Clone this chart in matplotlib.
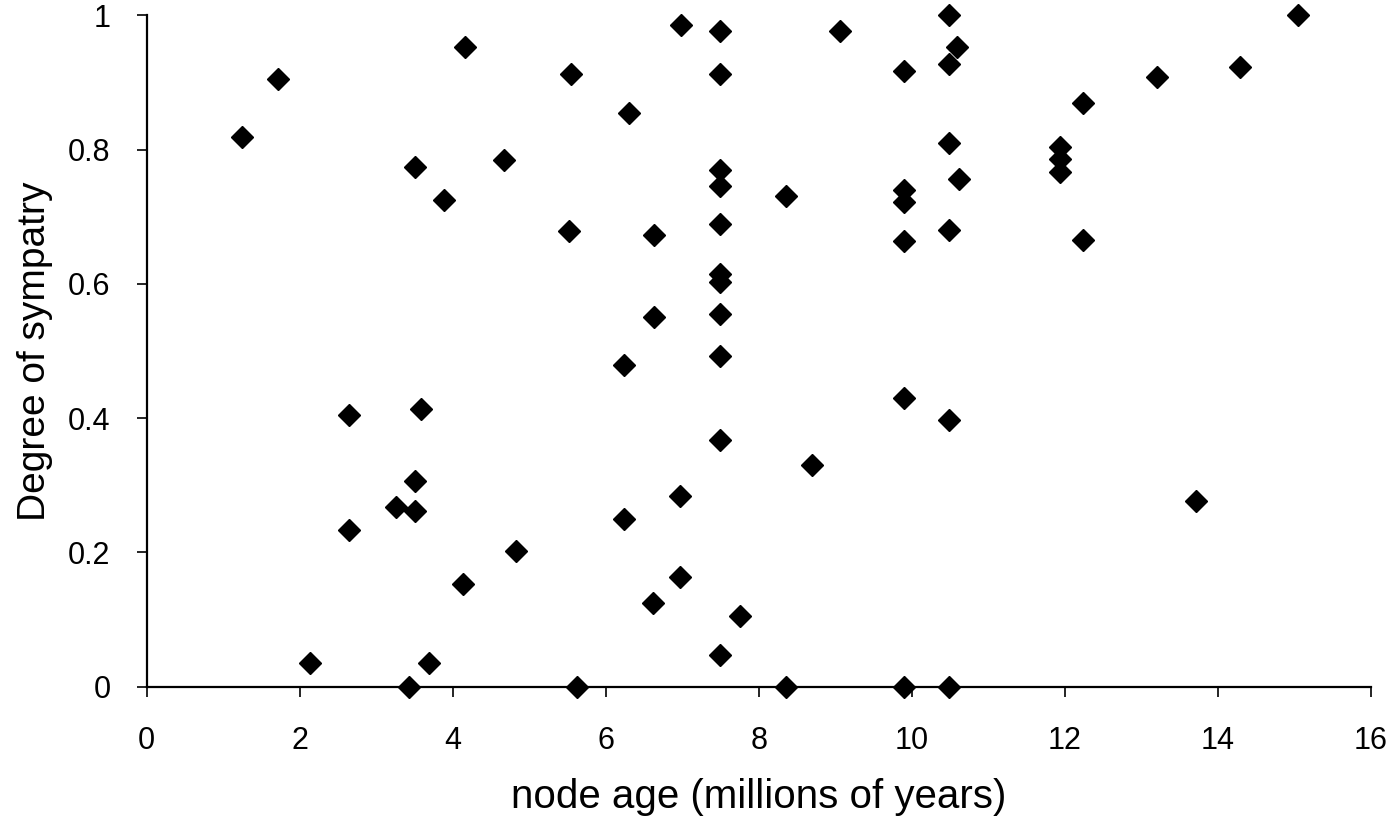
import matplotlib.pyplot as plt

plt.rcParams['font.family'] = ['Liberation Sans', 'DejaVu Sans']

# node age (Myr) and degree of sympatry for each sister-species pair
node_age = [
    1.24, 1.72, 2.14, 2.65, 2.65, 3.26, 3.43, 3.50, 3.50, 3.50,
    3.58, 3.69, 3.88, 4.14, 4.16, 4.67, 4.83, 5.52, 5.54, 5.62,
    6.24, 6.24, 6.30, 6.62, 6.63, 6.63, 6.97, 6.97, 6.98,
    7.49, 7.49, 7.49, 7.49, 7.49, 7.49, 7.49, 7.49, 7.49, 7.49, 7.49,
    7.75, 8.35, 8.35, 8.70, 9.06,
    9.90, 9.90, 9.90, 9.90, 9.90, 9.90,
    10.49, 10.49, 10.49, 10.49, 10.49, 10.49, 10.59, 10.62,
    11.93, 11.93, 11.93, 12.24, 12.24, 13.20, 13.71, 14.29, 15.04,
]
sympatry = [
    0.818, 0.905, 0.035, 0.404, 0.234, 0.268, 0.0, 0.774, 0.306, 0.262,
    0.413, 0.036, 0.725, 0.153, 0.952, 0.784, 0.202, 0.678, 0.912, 0.0,
    0.479, 0.25, 0.854, 0.124, 0.673, 0.551, 0.284, 0.164, 0.985,
    0.976, 0.912, 0.77, 0.745, 0.689, 0.615, 0.602, 0.555, 0.492, 0.367, 0.047,
    0.105, 0.731, 0.0, 0.33, 0.976,
    0.917, 0.74, 0.722, 0.664, 0.43, 0.0,
    1.0, 0.927, 0.81, 0.68, 0.397, 0.0, 0.952, 0.756,
    0.804, 0.786, 0.766, 0.869, 0.665, 0.908, 0.276, 0.923, 1.0,
]

x_ticks = [0, 2, 4, 6, 8, 10, 12, 14, 16]
y_ticks = [0, 0.2, 0.4, 0.6, 0.8, 1]
y_tick_labels = ['0', '0.2', '0.4', '0.6', '0.8', '1']

fig = plt.figure(figsize=(13.93, 8.19), dpi=100)
ax = fig.add_axes([0.1053, 0.1615, 0.8789, 0.8199])

ax.plot(node_age, sympatry, linestyle='none', marker='D', markersize=10.8,
        color='black', clip_on=False, zorder=5)

ax.set_xlim(0, 16)
ax.set_ylim(0, 1)
ax.set_xticks(x_ticks)
ax.set_yticks(y_ticks)
ax.set_yticklabels(y_tick_labels)

ax.spines['top'].set_color('none')
ax.spines['right'].set_color('none')
ax.spines['left'].set_linewidth(1.6)
ax.spines['bottom'].set_linewidth(1.6)
ax.tick_params(direction='out', length=7, width=1.2, labelsize=22)
ax.tick_params(axis='x', pad=21.5)
ax.tick_params(axis='y', pad=19)

ax.set_xlabel('node age (millions of years)', fontsize=29)
ax.set_ylabel('Degree of sympatry', fontsize=28)
ax.xaxis.set_label_coords(0.5, -0.136)
ax.yaxis.set_label_coords(-0.0765, 0.5)

plt.savefig('out.png', dpi=100)
